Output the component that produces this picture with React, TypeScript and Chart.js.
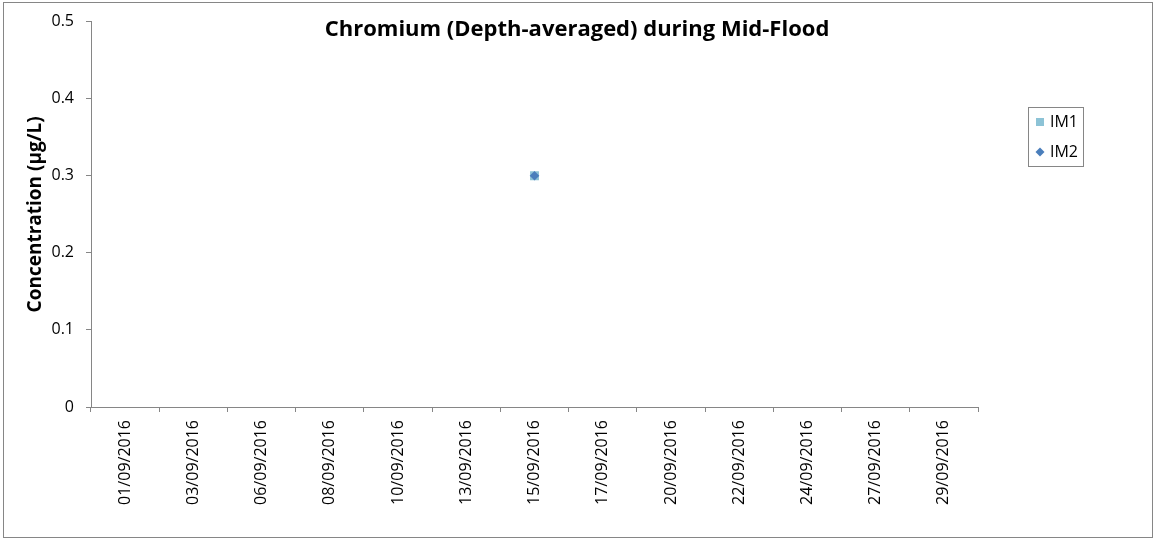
import React, { useEffect, useRef } from "react";
import { Chart, registerables } from "chart.js";

Chart.register(...registerables);

const categories = [
  "01/09/2016", "03/09/2016", "06/09/2016", "08/09/2016", "10/09/2016",
  "13/09/2016", "15/09/2016", "17/09/2016", "20/09/2016", "22/09/2016",
  "24/09/2016", "27/09/2016", "29/09/2016",
];
const im1Values = [null, null, null, null, null, null, 0.3, null, null, null, null, null, null];
const im2Values = [null, null, null, null, null, null, 0.3, null, null, null, null, null, null];
const seriesNames = ["IM1", "IM2"];
const yMin = 0;
const yMax = 0.5;
const yStep = 0.1;
const chartTitle = "Chromium (Depth-averaged) during Mid-Flood";
const yAxisTitle = "Concentration (µg/L)";

const W = 1155;
const H = 539;
const GRAY = "#868686";
const FONT = "'Open Sans', 'Noto Sans', sans-serif";

const decorPlugin = {
  id: "decor",
  afterDraw(chart: any) {
    const ctx = chart.ctx;
    ctx.save();
    // outer frame
    ctx.strokeStyle = GRAY;
    ctx.lineWidth = 1;
    ctx.strokeRect(3.5, 2.5, 1149, 535);
    // title
    ctx.fillStyle = "#000";
    ctx.font = `bold 22px ${FONT}`;
    ctx.textAlign = "center";
    ctx.textBaseline = "middle";
    ctx.fillText(chartTitle, 577, 30);
    // legend
    ctx.strokeStyle = GRAY;
    ctx.strokeRect(1028.5, 107.5, 55, 59);
    chart.data.datasets.forEach((ds: any, i: number) => {
      const cy = 122 + i * 30;
      const cx = 1040;
      ctx.fillStyle = ds.pointBackgroundColor;
      if (ds.pointStyle === "rect") {
        ctx.fillRect(cx - 4, cy - 4, 8, 8);
      } else {
        ctx.beginPath();
        ctx.moveTo(cx, cy - 4.5);
        ctx.lineTo(cx + 4.5, cy);
        ctx.lineTo(cx, cy + 4.5);
        ctx.lineTo(cx - 4.5, cy);
        ctx.closePath();
        ctx.fill();
      }
      ctx.fillStyle = "#000";
      ctx.font = `16px ${FONT}`;
      ctx.textAlign = "left";
      ctx.textBaseline = "middle";
      ctx.fillText(ds.label, 1050, cy);
    });
    ctx.restore();
  },
};

export default function App() {
  const ref = useRef<HTMLCanvasElement | null>(null);
  useEffect(() => {
    if (!ref.current) return;
    const chart = new Chart(ref.current, {
      type: "line",
      data: {
        labels: categories,
        datasets: [
          {
            label: seriesNames[0],
            data: im1Values,
            order: 2,
            showLine: false,
            pointStyle: "rect",
            pointRadius: 6.3,
            pointBackgroundColor: "#8DC3D6",
            pointBorderColor: "#8DC3D6",
            pointBorderWidth: 0,
          },
          {
            label: seriesNames[1],
            data: im2Values,
            order: 1,
            showLine: false,
            pointStyle: "rectRot",
            pointRadius: 4.8,
            pointBackgroundColor: "#4A7EBB",
            pointBorderColor: "#4A7EBB",
            pointBorderWidth: 0,
          },
        ],
      },
      options: {
        responsive: false,
        animation: false,
        devicePixelRatio: 1,
        layout: { padding: { left: 0, top: 20, right: W - 978, bottom: 0 } },
        plugins: {
          legend: { display: false },
          title: { display: false },
          tooltip: { enabled: false },
        },
        scales: {
          x: {
            type: "category",
            offset: true,
            grid: { offset: true, drawOnChartArea: false, tickLength: 5, color: GRAY },
            border: { color: GRAY },
            ticks: {
              autoSkip: false,
              minRotation: 90,
              maxRotation: 90,
              padding: 8,
              color: "#000",
              font: { family: FONT, size: 16 },
            },
            afterFit: (s: any) => { s.height = H - 407; },
          },
          y: {
            min: yMin,
            max: yMax,
            grid: { drawOnChartArea: false, tickLength: 5, color: GRAY },
            border: { color: GRAY },
            ticks: {
              stepSize: yStep,
              padding: 12,
              color: "#000",
              font: { family: FONT, size: 16 },
            },
            title: {
              display: true,
              text: yAxisTitle,
              color: "#000",
              font: { family: FONT, size: 19, weight: "bold" },
              padding: { top: 24, bottom: 0 },
            },
            afterFit: (s: any) => { s.width = 91; },
          },
        },
      },
      plugins: [decorPlugin],
    });
    return () => chart.destroy();
  }, []);
  return (
    <div style={{ position: "fixed", left: 0, top: 0, width: W, height: H, background: "#fff" }}>
      <canvas ref={ref} width={W} height={H} style={{ width: W, height: H, display: "block" }} />
    </div>
  );
}
